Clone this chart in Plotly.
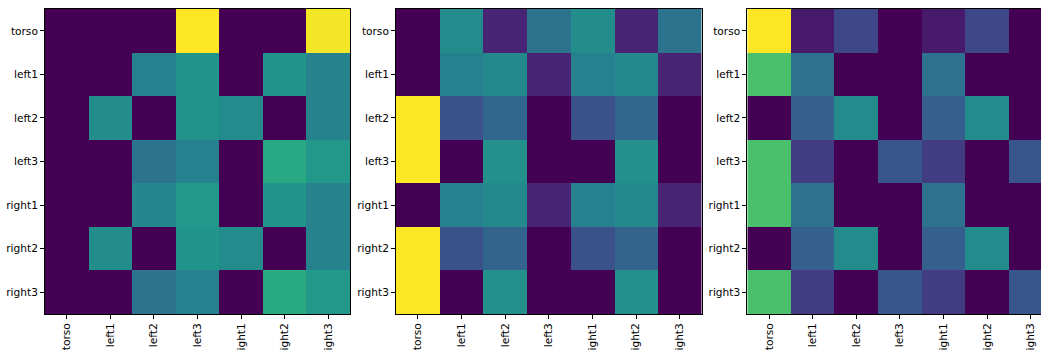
import plotly.graph_objects as go

# Joint names shared by rows and columns of every matrix
joints = ["torso", "left1", "left2", "left3", "right1", "right2", "right3"]

# Matrix for the first panel (rows: torso .. right3)
panel_a = [
    [0.00, 0.00, 0.00, 1.00, 0.00, 0.00, 0.985],
    [0.00, 0.00, 0.44, 0.52, 0.00, 0.52, 0.45],
    [0.00, 0.49, 0.00, 0.51, 0.48, 0.00, 0.45],
    [0.00, 0.00, 0.38, 0.44, 0.00, 0.60, 0.53],
    [0.00, 0.00, 0.46, 0.53, 0.00, 0.52, 0.45],
    [0.00, 0.49, 0.00, 0.52, 0.48, 0.00, 0.45],
    [0.00, 0.00, 0.38, 0.44, 0.00, 0.61, 0.53],
]

# Matrix for the second panel
panel_b = [
    [0.00, 0.48, 0.10, 0.38, 0.49, 0.10, 0.38],
    [0.00, 0.44, 0.47, 0.10, 0.44, 0.47, 0.10],
    [1.00, 0.25, 0.33, 0.00, 0.25, 0.33, 0.00],
    [1.00, 0.00, 0.50, 0.00, 0.00, 0.50, 0.00],
    [0.00, 0.44, 0.47, 0.10, 0.44, 0.47, 0.10],
    [1.00, 0.25, 0.32, 0.00, 0.25, 0.32, 0.00],
    [1.00, 0.00, 0.50, 0.00, 0.00, 0.50, 0.00],
]

# Matrix for the third panel
panel_c = [
    [1.00, 0.07, 0.22, 0.00, 0.07, 0.22, 0.00],
    [0.71, 0.37, 0.00, 0.00, 0.37, 0.00, 0.00],
    [0.00, 0.30, 0.48, 0.00, 0.30, 0.48, 0.00],
    [0.71, 0.18, 0.00, 0.27, 0.18, 0.00, 0.27],
    [0.71, 0.37, 0.00, 0.00, 0.37, 0.00, 0.00],
    [0.00, 0.30, 0.48, 0.00, 0.30, 0.48, 0.00],
    [0.71, 0.18, 0.00, 0.27, 0.18, 0.00, 0.27],
]

W, H = 1041, 350
idx = list(range(len(joints)))

fig = go.Figure()

panels = [panel_a, panel_b, panel_c]
x_domains = [(45 / W, 350 / W), (396 / W, 701.5 / W), (747.3 / W, 1.0)]
cell_px = 305.3 / 7
y_domain = (1 - 314 / H, 1 - 9 / H)

font = dict(family="DejaVu Sans", size=10.6, color="black")

for i, (z, dom) in enumerate(zip(panels, x_domains)):
    n = "" if i == 0 else str(i + 1)
    fig.add_trace(go.Heatmap(
        z=z, x=idx, y=idx,
        colorscale="Viridis", zmin=0, zmax=1,
        showscale=False, xaxis="x" + n, yaxis="y" + n,
        hoverinfo="skip",
    ))
    width_px = (dom[1] - dom[0]) * W
    x_hi = -0.5 + width_px / cell_px
    last = i == len(panels) - 1
    fig.layout["xaxis" + n] = dict(
        domain=list(dom), anchor="y" + n,
        range=[-0.5, x_hi if last else 6.5],
        tickmode="array", tickvals=idx, ticktext=joints, tickangle=-90,
        ticks="outside", ticklen=4, tickwidth=1, tickcolor="black",
        showline=True, linecolor="black", linewidth=1, mirror=True,
        showgrid=False, zeroline=False, tickfont=font, fixedrange=True,
        automargin=False,
    )
    fig.layout["yaxis" + n] = dict(
        domain=list(y_domain), anchor="x" + n,
        range=[6.5, -0.5],
        tickmode="array", tickvals=idx, ticktext=joints,
        ticks="outside", ticklen=4, tickwidth=1, tickcolor="black",
        showline=True, linecolor="black", linewidth=1, mirror=not last,
        showgrid=False, zeroline=False, tickfont=font, fixedrange=True,
        automargin=False,
    )

fig.update_layout(
    width=W, height=H,
    margin=dict(l=0, r=0, t=0, b=0, autoexpand=False),
    paper_bgcolor="white", plot_bgcolor="white",
    showlegend=False,
)

fig.write_html("out.html", config={"displayModeBar": False})
